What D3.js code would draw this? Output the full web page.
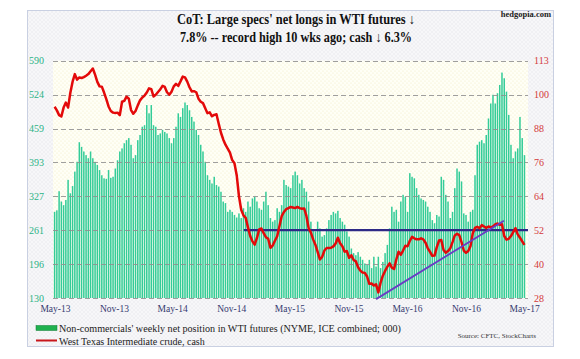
<!DOCTYPE html>
<html><head><meta charset="utf-8">
<script src="https://cdn.jsdelivr.net/npm/d3@7"></script>
<style>html,body{margin:0;padding:0;background:#fff;} svg{display:block;}</style>
</head><body><svg id="c" width="580" height="359"></svg>
<script>
// ---------------- data ----------------
const startWeek = "2013-04-30";
const netLong = [
297,300,337,317,310,320,359,333,347,375,394,432,423,414,407,401,414,401,394,388,
378,368,362,361,378,363,365,381,397,414,420,430,436,440,427,401,407,436,446,462,
465,504,488,504,465,462,446,449,456,452,449,440,
430,440,462,488,481,498,509,504,494,481,472,456,446,427,414,394,368,359,352,365,
349,346,336,317,314,297,301,297,291,286,294,285,304,297,317,307,323,326,317,304,
301,317,336,310,285,278,281,304,297,310,359,349,346,
343,368,375,368,352,359,343,336,317,278,262,259,278,265,249,252,265,281,291,297,
294,299,285,278,272,259,249,226,217,213,219,210,204,197,194,204,188,210,191,210,
188,200,217,233,265,307,297,301,278,317,330,326,
297,372,365,362,343,330,323,320,317,307,297,281,275,291,288,365,359,330,317,285,
297,343,381,375,356,294,291,278,297,301,368,427,433,436,430,446,478,507,524,507,
527,543,567,556,530,485,427,401,414,420,481,440,407
];
const wti = [
96.5,95.2,93.5,93.0,96.2,98.0,96.2,101.5,105.5,108.2,
106.2,107.0,106.8,107.1,107.6,108.2,109.2,110.2,108.0,105.4,
103.8,103.7,101.6,99.2,96.6,95.0,94.4,94.3,94.4,93.5,
98.3,98.6,100.1,99.4,95.3,94.0,95.0,97.0,98.8,99.8,
100.5,101.6,103.1,102.8,100.2,100.8,101.8,102.7,104.0,103.6,
101.7,100.8,101.9,103.8,104.7,104.0,105.6,107.3,107.0,105.5,
103.5,102.0,102.1,101.7,99.4,98.3,97.8,96.0,94.2,94.5,
93.1,93.6,93.8,90.4,87.2,84.8,82.9,81.5,80.1,77.4,
76.3,72.0,64.5,59.6,57.6,56.7,53.3,50.2,48.3,47.1,
49.5,52.6,52.9,51.2,49.8,49.2,46.0,46.8,48.5,50.1,
53.7,57.3,58.8,59.8,60.2,60.6,60.4,60.2,60.6,60.2,
60.0,60.1,57.4,53.0,51.4,49.0,47.1,44.5,41.8,42.7,
45.0,45.9,45.9,46.0,46.5,47.5,49.6,47.6,46.5,44.6,
44.8,42.4,43.3,41.6,41.1,39.0,37.8,37.1,37.0,35.7,
33.1,33.2,32.5,32.9,30.0,33.5,36.0,37.7,39.2,40.4,
38.9,38.4,41.8,44.6,43.5,45.0,46.7,46.5,48.5,49.9,
49.4,49.0,49.0,49.4,49.0,47.8,45.8,44.5,43.1,43.2,
46.2,48.6,48.8,45.2,44.2,44.8,45.8,48.0,50.4,51.0,
50.5,48.0,45.0,44.2,44.8,46.6,51.2,53.1,53.5,53.0,
54.1,53.6,53.1,53.6,53.3,53.6,54.4,54.7,54.2,54.4,
50.2,48.9,49.2,50.2,51.6,53.0,50.8,49.6,48.3,47.0
];
const leftTicks = [130,195.71,261.43,327.14,392.86,458.57,524.29,590];
const leftTickLabels = ["130","196","261","327","393","459","524","590"];
const rightTicks = [28,40.14,52.29,64.43,76.57,88.71,100.86,113];
const rightTickLabels = ["28","40","52","64","76","88","100","113"];
const xTickDates = ["2013-05-01","2013-11-01","2014-05-01","2014-11-01","2015-05-01","2015-11-01","2016-05-01","2016-11-01","2017-05-01"];
const supportLevel = 52.29;
const supportStart = "2014-12-10";
const trendStart = {date:"2016-01-26", value:27.6};
const trendEnd = {date:"2017-02-27", value:55.7};
const titleLines = ["CoT: Large specs' net longs in WTI futures \u2193","7.8% -- record high 10 wks ago; cash \u2193 6.3%"];
const legendItems = ["Non-commercials' weekly net position in WTI futures (NYME, ICE combined; 000)","West Texas Intermediate crude, cash"];

// ---------------- drawing ----------------
const parse = d3.utcParse("%Y-%m-%d");
const start = parse(startWeek);
const weeks = netLong.map((_, i) => d3.utcDay.offset(start, 7 * i));

const svg = d3.select("#c");
const plot = {left: 53, right: 528, top: 60.7, bottom: 298};

const x = d3.scaleUtc().domain([parse("2013-04-25"), parse("2017-05-13")]).range([plot.left, plot.right]);
const yL = d3.scaleLinear().domain([130, 590]).range([plot.bottom, plot.top]);
const yR = d3.scaleLinear().domain([28, 113]).range([plot.bottom, plot.top]);

const defs = svg.append("defs");
const pOut = defs.append("pattern").attr("id","outer").attr("width",4).attr("height",4).attr("patternUnits","userSpaceOnUse");
pOut.append("rect").attr("width",4).attr("height",4).attr("fill","#f7f7f9");
pOut.append("path").attr("d","M0,4 L4,0 M0,0 L4,4").attr("stroke","#ebebef").attr("stroke-width",0.6);
const pIn = defs.append("pattern").attr("id","inner").attr("width",4).attr("height",4).attr("patternUnits","userSpaceOnUse");
pIn.append("rect").attr("width",4).attr("height",4).attr("fill","#fffff6");
pIn.append("circle").attr("cx",1).attr("cy",1).attr("r",0.6).attr("fill","#f3ecc4");
pIn.append("circle").attr("cx",3).attr("cy",3).attr("r",0.6).attr("fill","#f3ecc4");

svg.append("rect").attr("x",27.5).attr("y",10.5).attr("width",526).attr("height",336)
  .attr("fill","url(#outer)").attr("stroke","#c9d0e2").attr("stroke-width",1);
svg.append("rect").attr("x",plot.left).attr("y",plot.top).attr("width",plot.right-plot.left).attr("height",plot.bottom-plot.top)
  .attr("fill","url(#inner)");

// title
const serif = "'Liberation Serif','Times New Roman',serif";
svg.append("text").attr("x",296).attr("y",24).attr("text-anchor","middle").attr("font-family",serif)
  .attr("font-weight","bold").attr("font-size",14).attr("fill","#111")
  .attr("textLength",238).attr("lengthAdjust","spacingAndGlyphs").text(titleLines[0]);
svg.append("text").attr("x",296).attr("y",42).attr("text-anchor","middle").attr("font-family",serif)
  .attr("font-weight","bold").attr("font-size",14).attr("fill","#111")
  .attr("textLength",232).attr("lengthAdjust","spacingAndGlyphs").text(titleLines[1]);
svg.append("text").attr("x",551).attr("y",17).attr("text-anchor","end").attr("font-family",serif)
  .attr("font-weight","bold").attr("font-size",8.5).attr("fill","#222").text("hedgopia.com");

// bars
const bw = 1.5;
svg.append("g").selectAll("rect").data(netLong).join("rect")
  .attr("x", (d, i) => x(weeks[i]) - bw / 2)
  .attr("y", d => yL(d))
  .attr("width", bw)
  .attr("height", d => yL(130) - yL(d))
  .attr("fill", "#33cc98");

// gridlines
svg.append("g").selectAll("line").data(leftTicks).join("line")
  .attr("x1", plot.left).attr("x2", plot.right)
  .attr("y1", d => Math.round(yL(d)) + 0.5).attr("y2", d => Math.round(yL(d)) + 0.5)
  .attr("stroke", "#8f8f8f").attr("stroke-width", 1).attr("stroke-dasharray", "5,3").attr("opacity",0.85);

// axes labels
const gL = svg.append("g").attr("transform", `translate(${plot.left - 9},0)`)
  .call(d3.axisLeft(yL).tickValues(leftTicks).tickFormat((d, i) => leftTickLabels[i]).tickSize(0).tickPadding(0));
gL.select(".domain").remove();
gL.selectAll("text").attr("font-family", serif).attr("font-size", 10).attr("fill", "#2bb386");

const gR = svg.append("g").attr("transform", `translate(${plot.right + 6},0)`)
  .call(d3.axisRight(yR).tickValues(rightTicks).tickFormat((d, i) => rightTickLabels[i]).tickSize(0).tickPadding(0));
gR.select(".domain").remove();
gR.selectAll("text").attr("font-family", serif).attr("font-size", 10).attr("fill", "#d43a3a");

const gX = svg.append("g").attr("transform", `translate(0,${plot.bottom + 7})`)
  .call(d3.axisBottom(x).tickValues(xTickDates.map(parse)).tickFormat(d3.utcFormat("%b-%y")).tickSize(0).tickPadding(0));
gX.select(".domain").remove();
gX.selectAll("text").attr("font-family", serif).attr("font-size", 9.5).attr("fill", "#363a70");

// support line
svg.append("line")
  .attr("x1", x(parse(supportStart))).attr("x2", plot.right)
  .attr("y1", yR(supportLevel)).attr("y2", yR(supportLevel))
  .attr("stroke", "#2e2a86").attr("stroke-width", 2.2);

// WTI line
svg.append("path").datum(wti)
  .attr("d", d3.line().x((d, i) => x(weeks[i])).y(d => yR(d)).curve(d3.curveLinear))
  .attr("fill", "none").attr("stroke", "#e30a0a").attr("stroke-width", 2.5).attr("stroke-linejoin","round");

// trend line
svg.append("line")
  .attr("x1", x(parse(trendStart.date))).attr("y1", yR(trendStart.value))
  .attr("x2", x(parse(trendEnd.date))).attr("y2", yR(trendEnd.value))
  .attr("stroke", "#6a3cc4").attr("stroke-width", 1.8);

// legend
svg.append("rect").attr("x",36).attr("y",325.5).attr("width",21).attr("height",5).attr("fill","#1fb14e").attr("stroke","#0f7a35").attr("stroke-width",0.5);
svg.append("line").attr("x1",36).attr("x2",57).attr("y1",340.5).attr("y2",340.5).attr("stroke","#c8161b").attr("stroke-width",2);
svg.append("text").attr("x",59).attr("y",332).attr("font-family",serif).attr("font-size",10).attr("fill","#222")
  .attr("textLength",342).attr("lengthAdjust","spacingAndGlyphs").text(legendItems[0]);
svg.append("text").attr("x",59).attr("y",345).attr("font-family",serif).attr("font-size",10).attr("fill","#222").text(legendItems[1]);
svg.append("text").attr("x",536).attr("y",338).attr("text-anchor","end").attr("font-family",serif).attr("font-size",7).attr("fill","#333").text("Source: CFTC, StockCharts");
</script></body></html>
